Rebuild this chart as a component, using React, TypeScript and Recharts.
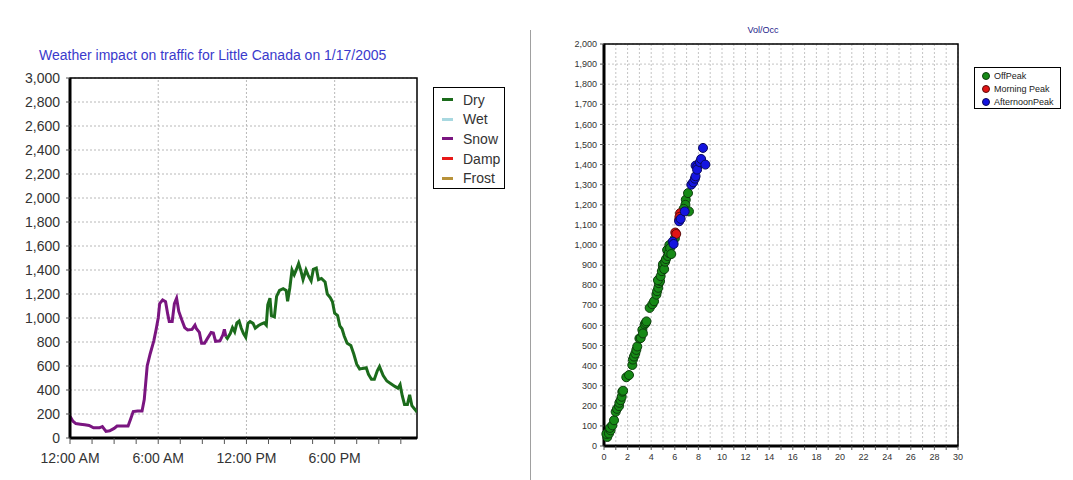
import React from 'react';
import {
  LineChart, Line, XAxis, YAxis, CartesianGrid, ReferenceLine, ReferenceArea,
  ScatterChart, Scatter,
} from 'recharts';

// ---- left chart: volume by time of day (hours since midnight) ----
const snowHours = [0, 0.2, 0.4, 0.7, 1.0, 1.3, 1.6, 2.0, 2.2, 2.45, 2.7, 3.0, 3.2, 3.6, 3.95, 4.1, 4.3, 4.6, 4.9, 5.05, 5.25, 5.45, 5.7, 5.85, 6.0, 6.1, 6.3, 6.5, 6.65, 6.75, 6.95, 7.1, 7.25, 7.4, 7.6, 7.8, 8.0, 8.3, 8.5, 8.6, 8.8, 8.95, 9.15, 9.35, 9.6, 9.75, 9.9, 10.2, 10.4, 10.5, 10.6];
const snowVolume = [180, 140, 120, 115, 110, 105, 85, 85, 95, 55, 60, 80, 100, 100, 100, 150, 220, 225, 225, 320, 600, 700, 810, 900, 1000, 1120, 1150, 1135, 1030, 970, 970, 1120, 1165, 1055, 985, 920, 900, 905, 940, 910, 880, 790, 790, 830, 880, 875, 805, 810, 860, 905, 845];

const dryHours = [10.6, 10.7, 10.9, 11.05, 11.2, 11.35, 11.5, 11.65, 11.8, 11.95, 12.1, 12.25, 12.45, 12.6, 12.8, 13.0, 13.2, 13.35, 13.45, 13.6, 13.7, 13.9, 14.05, 14.25, 14.5, 14.7, 14.8, 14.95, 15.1, 15.25, 15.4, 15.55, 15.7, 15.85, 16.05, 16.2, 16.4, 16.55, 16.75, 16.9, 17.1, 17.35, 17.5, 17.7, 17.85, 18.0, 18.2, 18.35, 18.5, 18.65, 18.85, 19.1, 19.3, 19.5, 19.7, 19.9, 20.15, 20.3, 20.5, 20.7, 20.9, 21.05, 21.3, 21.55, 21.8, 22.1, 22.3, 22.45, 22.6, 22.75, 22.95, 23.1, 23.25, 23.45, 23.6];
const dryVolume = [845, 830, 870, 920, 885, 960, 975, 915, 870, 840, 955, 970, 955, 915, 935, 950, 960, 940, 1110, 1165, 1020, 1010, 1180, 1230, 1245, 1230, 1140, 1250, 1400, 1360, 1405, 1455, 1395, 1320, 1400, 1355, 1310, 1405, 1415, 1320, 1330, 1300, 1200, 1170, 1135, 1040, 1020, 935, 910, 850, 790, 770, 700, 615, 575, 580, 585, 530, 490, 490, 560, 595, 520, 475, 455, 430, 415, 445, 350, 280, 280, 360, 270, 240, 215];

const hourTicks = [0, 1.5, 3, 4.5, 6, 7.5, 9, 10.5, 12, 13.5, 15, 16.5, 18, 19.5, 21, 22.5];
const hourLabels: Record<number, string> = { 0: '12:00 AM', 6: '6:00 AM', 12: '12:00 PM', 18: '6:00 PM' };
const hourGrid = [6, 12, 18];
const volumeTicks = [0, 200, 400, 600, 800, 1000, 1200, 1400, 1600, 1800, 2000, 2200, 2400, 2600, 2800, 3000];

const weatherSeries = [
  { name: 'Dry', color: '#1b6b1b' },
  { name: 'Wet', color: '#a8d8e0' },
  { name: 'Snow', color: '#7a1580' },
  { name: 'Damp', color: '#e81818' },
  { name: 'Frost', color: '#b8923a' },
];

// ---- right chart: volume vs occupancy ----
const offPeakPoints: [number, number][] = [
  [0.28, 45], [0.2, 60], [0.42, 62], [0.56, 78], [0.5, 90], [0.71, 103], [0.85, 128], [0.99, 170], [1.1, 185],
  [1.27, 198], [1.3, 215], [1.41, 228], [1.5, 245], [1.55, 270], [1.62, 275], [1.89, 342], [2.12, 353],
  [2.4, 403], [2.45, 430], [2.54, 445], [2.65, 460], [2.74, 478], [2.82, 495], [3.0, 535], [3.11, 537],
  [3.25, 578], [3.3, 560], [3.45, 605], [3.53, 612], [3.6, 620], [3.87, 687], [4.1, 705], [4.24, 720],
  [4.44, 753], [4.5, 770], [4.6, 787], [4.65, 810], [4.75, 820], [4.57, 825], [4.8, 845], [4.9, 870],
  [4.99, 892], [5.0, 905], [5.1, 880], [5.18, 917], [5.25, 930], [5.35, 975], [5.4, 945], [5.5, 960],
  [5.54, 1000], [5.6, 985], [5.7, 955], [6.01, 1033], [6.93, 1225], [7.12, 1258], [6.9, 1200],
  [7.2, 1167], [6.75, 1180],
];
const morningPeakPoints: [number, number][] = [
  [6.04, 1062], [6.12, 1055], [6.37, 1125], [6.45, 1158], [6.4, 1140],
];
const afternoonPeakPoints: [number, number][] = [
  [5.82, 1017], [5.9, 1005], [6.37, 1118], [6.5, 1130], [6.84, 1167], [7.4, 1300], [7.56, 1312],
  [7.7, 1330], [7.76, 1342], [7.76, 1395], [7.9, 1390], [7.89, 1375], [8.12, 1412], [8.23, 1428],
  [8.59, 1400], [8.39, 1483],
];

const occTicks = [0, 1, 2, 3, 4, 5, 6, 7, 8, 9, 10, 11, 12, 13, 14, 15, 16, 17, 18, 19, 20, 21, 22, 23, 24, 25, 26, 27, 28, 29, 30];
const volTicks = [0, 100, 200, 300, 400, 500, 600, 700, 800, 900, 1000, 1100, 1200, 1300, 1400, 1500, 1600, 1700, 1800, 1900, 2000];

const peakSeries = [
  { name: 'OffPeak', color: '#168a16', stroke: '#0c3d0c', points: offPeakPoints },
  { name: 'Morning Peak', color: '#e01414', stroke: '#5a0a0a', points: morningPeakPoints },
  { name: 'AfternoonPeak', color: '#1414e0', stroke: '#0a0a5a', points: afternoonPeakPoints },
];

const FONT = '"Liberation Sans", Arial, sans-serif';

const toRows = (xs: number[], ys: number[]) => xs.map((h, i) => ({ h, v: ys[i] }));
const toPoints = (pts: [number, number][]) => pts.map(([x, y]) => ({ x, y }));
const fmt = (n: number) => n.toLocaleString('en-US');

const Dot = (color: string, stroke: string) => (props: any) => (
  <circle cx={props.cx} cy={props.cy} r={4.5} fill={color} stroke={stroke} strokeWidth={1} />
);

export default function App() {
  const snowData = toRows(snowHours, snowVolume);
  const dryData = toRows(dryHours, dryVolume);

  return (
    <div style={{ position: 'fixed', left: 0, top: 0, width: 1073, height: 480, background: '#fff', fontFamily: FONT }}>
      {/* left panel */}
      <div style={{ position: 'absolute', left: 39, top: 47, fontSize: 14, color: '#3a3acc', whiteSpace: 'nowrap' }}>
        Weather impact on traffic for Little Canada on 1/17/2005
      </div>
      <div style={{ position: 'absolute', left: 0, top: 0 }}>
        <LineChart width={530} height={480} margin={{ top: 78, right: 113, bottom: 12, left: 10 }}>
          <CartesianGrid vertical={false} stroke="#b8b8b8" strokeDasharray="2 2" />
          {hourGrid.map((h) => (
            <ReferenceLine key={h} x={h} stroke="#b8b8b8" strokeDasharray="2 2" />
          ))}
          <XAxis
            type="number" dataKey="h" domain={[0, 23.6]} ticks={hourTicks} allowDataOverflow
            tickFormatter={(t: number) => hourLabels[t] ?? ''}
            axisLine={{ stroke: '#000', strokeWidth: 3 }} tickLine={{ stroke: '#555' }}
            tickSize={6} tickMargin={9} height={30}
            tick={{ fill: '#333', fontSize: 14, fontFamily: FONT }} interval={0}
          />
          <YAxis
            type="number" domain={[0, 3000]} ticks={volumeTicks} tickFormatter={fmt}
            axisLine={{ stroke: '#000', strokeWidth: 3 }} tickLine={{ stroke: '#555' }}
            tickSize={4} tickMargin={6} width={60}
            tick={{ fill: '#333', fontSize: 14, fontFamily: FONT }} interval={0}
          />
          <ReferenceArea x1={0} x2={23.6} y1={0} y2={3000} fill="none" stroke="#000" strokeWidth={1.5} />
          <Line data={snowData} dataKey="v" type="linear" stroke="#7a1580" strokeWidth={3} dot={false} isAnimationActive={false} />
          <Line data={dryData} dataKey="v" type="linear" stroke="#1b6b1b" strokeWidth={3} dot={false} isAnimationActive={false} />
        </LineChart>
      </div>
      <div style={{ position: 'absolute', left: 433, top: 87, width: 70, height: 98, border: '1.5px solid #000', paddingTop: 2 }}>
        {weatherSeries.map((s) => (
          <div key={s.name} style={{ display: 'flex', alignItems: 'center', height: 19.6, fontSize: 14, color: '#333' }}>
            <span style={{ display: 'inline-block', width: 11, height: 3, background: s.color, marginLeft: 8, marginRight: 10 }} />
            {s.name}
          </div>
        ))}
      </div>

      {/* divider */}
      <div style={{ position: 'absolute', left: 530, top: 30, width: 1, height: 450, background: '#a0a0a0' }} />

      {/* right panel */}
      <div style={{ position: 'absolute', left: 740, top: 25, width: 46, textAlign: 'center', fontSize: 9, color: '#22228a' }}>
        Vol/Occ
      </div>
      <div style={{ position: 'absolute', left: 530, top: 0 }}>
        <ScatterChart width={543} height={480} margin={{ top: 44, right: 115, bottom: 14, left: 14 }}>
          <CartesianGrid stroke="#c4c4c4" strokeDasharray="2 2" />
          <XAxis
            type="number" dataKey="x" domain={[0, 30]} ticks={occTicks} interval={0}
            tickFormatter={(t: number) => (t % 2 === 0 ? String(t) : '')}
            axisLine={{ stroke: '#000', strokeWidth: 3 }} tickLine={{ stroke: '#555' }}
            tickSize={4} tickMargin={4} height={20}
            tick={{ fill: '#333', fontSize: 9, fontFamily: FONT }}
          />
          <YAxis
            type="number" dataKey="y" domain={[0, 2000]} ticks={volTicks} interval={0} tickFormatter={fmt}
            axisLine={{ stroke: '#000', strokeWidth: 3 }} tickLine={{ stroke: '#555' }}
            tickSize={4} tickMargin={3} width={60}
            tick={{ fill: '#333', fontSize: 9, fontFamily: FONT }}
          />
          <ReferenceArea x1={0} x2={30} y1={0} y2={2000} fill="none" stroke="#000" strokeWidth={1.5} />
          {peakSeries.map((s) => (
            <Scatter
              key={s.name} name={s.name} data={toPoints(s.points)}
              shape={Dot(s.color, s.stroke)} isAnimationActive={false}
            />
          ))}
        </ScatterChart>
      </div>
      <div style={{ position: 'absolute', left: 974, top: 67, width: 85, height: 39, border: '1px solid #000', paddingTop: 1 }}>
        {peakSeries.map((s) => (
          <div key={s.name} style={{ display: 'flex', alignItems: 'center', height: 13.3, fontSize: 9, color: '#222' }}>
            <span style={{ display: 'inline-block', width: 8, height: 8, borderRadius: 4, background: s.color, border: `1px solid ${s.stroke}`, marginLeft: 7, marginRight: 4, boxSizing: 'border-box' }} />
            {s.name}
          </div>
        ))}
      </div>
    </div>
  );
}
